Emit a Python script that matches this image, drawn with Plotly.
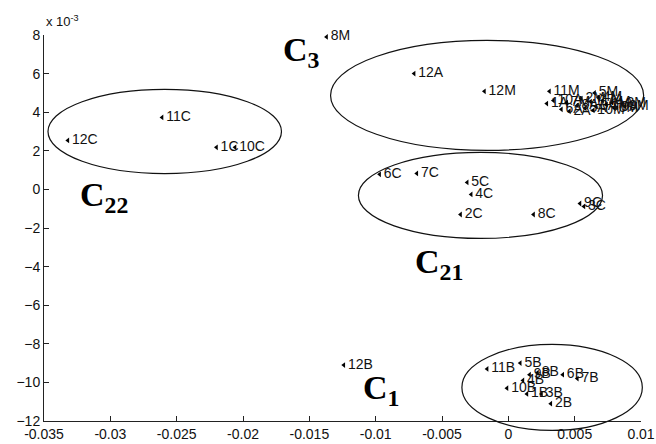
import plotly.graph_objects as go

# ---- data (y in units of 1e-3) ----
labels_A = ["1A","2A","3A","4A","5A","6A","7A","8A","9A","10A","11A","12A"]
x_A = [0.0029,0.0046,0.0066,0.0078,0.0058,0.0040,0.0071,0.0052,0.0082,0.0034,0.0062,-0.0071]
y_A = [4.45,4.05,4.3,4.5,4.2,4.15,4.6,4.35,4.25,4.6,4.55,6.0]

labels_M = ["1M","2M","3M","4M","5M","6M","7M","8M","9M","10M","11M","12M"]
x_M = [0.0074,0.0055,0.0086,0.0068,0.0065,0.0080,0.0044,-0.0137,0.0088,0.0064,0.0031,-0.0018]
y_M = [4.4,4.7,4.45,4.75,5.0,4.2,4.5,7.9,4.3,4.1,5.08,5.08]

labels_B = ["1B","2B","3B","4B","5B","6B","7B","8B","9B","10B","11B","12B"]
x_B = [0.0014,0.0032,0.0025,0.0011,0.0009,0.0041,0.0052,0.0022,0.0016,-0.0001,-0.0016,-0.0124]
y_B = [-10.6,-11.1,-10.6,-9.9,-9.0,-9.6,-9.8,-9.5,-9.6,-10.3,-9.3,-9.1]

labels_C = ["1C","2C","3C","4C","5C","6C","7C","8C","9C","10C","11C","12C"]
x_C = [-0.0220,-0.0036,0.0057,-0.0028,-0.0031,-0.0097,-0.0069,0.0019,0.0054,-0.0206,-0.0261,-0.0332]
y_C = [2.18,-1.3,-0.88,-0.26,0.36,0.78,0.83,-1.3,-0.73,2.18,3.73,2.54]

# clusters: name, center x, center y, radius x, radius y, label x, label y
cluster_names = ["C<sub>3</sub>", "C<sub>22</sub>", "C<sub>21</sub>", "C<sub>1</sub>"]
ell_cx = [-0.0016, -0.0259, -0.0021, 0.0033]
ell_cy = [4.87, 3.0, -0.31, -10.26]
ell_rx = [0.0118, 0.0088, 0.0092, 0.0068]
ell_ry = [2.85, 2.18, 2.23, 2.23]
lab_x = [-0.0156, -0.0305, -0.0052, -0.0096]
lab_y = [7.1, -0.4, -3.85, -10.4]

x_ticks = [-0.035,-0.03,-0.025,-0.02,-0.015,-0.01,-0.005,0,0.005,0.01]
x_ticktext = ["-0.035","-0.03","-0.025","-0.02","-0.015","-0.01","-0.005","0","0.005","0.01"]
y_ticks = [8,6,4,2,0,-2,-4,-6,-8,-10,-12]

XR = [-0.035, 0.01]
YR = [-12, 8]

fig = go.Figure()
for xs, ys, ls in [(x_A, y_A, labels_A), (x_M, y_M, labels_M), (x_B, y_B, labels_B), (x_C, y_C, labels_C)]:
    fig.add_trace(go.Scatter(
        x=xs, y=ys, text=ls, mode="markers+text",
        textposition="middle right",
        marker=dict(symbol="triangle-left", size=5, color="black"),
        textfont=dict(family="Liberation Sans, Arial", size=14, color="#111"),
        cliponaxis=False, showlegend=False, hoverinfo="skip"))

def px(v):
    return (v - XR[0]) / (XR[1] - XR[0])
def py(v):
    return (v - YR[0]) / (YR[1] - YR[0])

for cx, cy, rx, ry in zip(ell_cx, ell_cy, ell_rx, ell_ry):
    fig.add_shape(type="circle", xref="paper", yref="paper",
                  x0=px(cx - rx), x1=px(cx + rx), y0=py(cy - ry), y1=py(cy + ry),
                  line=dict(color="#111", width=1.2))

for name, lx, ly in zip(cluster_names, lab_x, lab_y):
    fig.add_annotation(x=lx, y=ly, xref="x", yref="y", text="<b>" + name + "</b>",
                       showarrow=False, xanchor="center", yanchor="middle",
                       font=dict(family="Liberation Serif, Times New Roman", size=34, color="black"))

fig.add_annotation(xref="paper", yref="paper", x=0, y=1, xanchor="left", yanchor="bottom",
                   yshift=4, text="x 10<sup>-3</sup>", showarrow=False,
                   font=dict(family="Liberation Sans, Arial", size=13, color="#111"))

axis_common = dict(showgrid=False, zeroline=False, showline=True, linecolor="#222", linewidth=1,
                   ticks="inside", ticklen=5, tickcolor="#222", mirror=False, automargin=False,
                   tickfont=dict(family="Liberation Sans, Arial", size=14, color="#111"))
fig.update_xaxes(range=XR, tickvals=x_ticks, ticktext=x_ticktext, **axis_common)
fig.update_yaxes(range=YR, tickvals=y_ticks, **axis_common)

fig.update_layout(width=656, height=444, margin=dict(l=44, r=15, t=35, b=23, autoexpand=False),
                  plot_bgcolor="white", paper_bgcolor="white")

fig.write_html("out.html", config={"displayModeBar": False},
               post_script="document.body.style.margin='0';")
